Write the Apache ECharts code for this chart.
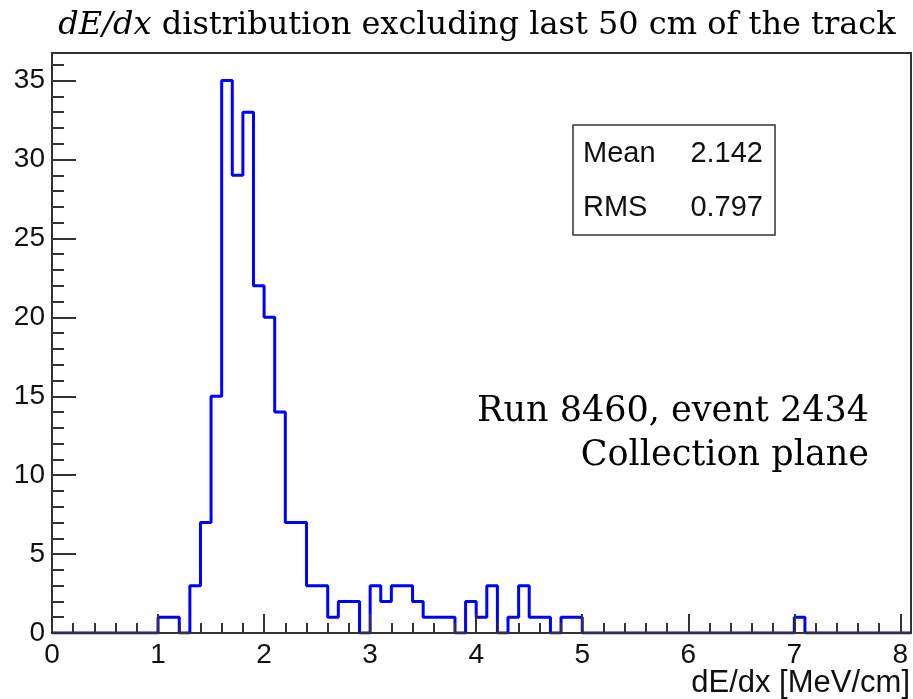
<!DOCTYPE html>
<html>
<head>
<meta charset="utf-8">
<script src="https://cdn.jsdelivr.net/npm/echarts@6/dist/echarts.min.js"></script>
<style>
html,body{margin:0;padding:0;background:#fff;}
#chart{width:913px;height:699px;}
</style>
</head>
<body>
<div id="chart"></div>
<script>
// Histogram: 81 bins of width 0.1 from 0 to 8.1 (dE/dx in MeV/cm)
const binWidth = 0.1;
const binCounts = [
  0,0,0,0,0,0,0,0,0,0,      // 0.0 - 0.9
  1,1,0,3,7,15,35,29,33,22, // 1.0 - 1.9
  20,14,7,7,3,3,1,2,2,0,    // 2.0 - 2.9
  3,2,3,3,2,1,1,1,0,2,      // 3.0 - 3.9
  1,3,0,1,3,1,1,0,1,1,      // 4.0 - 4.9
  0,0,0,0,0,0,0,0,0,0,      // 5.0 - 5.9
  0,0,0,0,0,0,0,0,0,0,      // 6.0 - 6.9
  1,0,0,0,0,0,0,0,0,0,      // 7.0 - 7.9
  0                         // 8.0
];
const xTickLabels = ['0','1','2','3','4','5','6','7','8'];
const yTickLabels = ['0','5','10','15','20','25','30','35'];
const statsNames = ['Mean', 'RMS'];
const statsValues = ['2.142', '0.797'];
const titleText = 'distribution excluding last 50 cm of the track';
const annotLines = ['Run 8460, event 2434', 'Collection plane'];
const xAxisTitle = 'dE/dx [MeV/cm]';

const xMax = 8.1, yMax = 36.75;

// build step outline points from bin edges
const stepData = binCounts.map((c, i) => [+(i * binWidth).toFixed(2), c]);
stepData.push([xMax, binCounts[binCounts.length - 1]]);

const axisCol = '#333';
const serif = 'DejaVu Serif';
const chart = echarts.init(document.getElementById('chart'));
chart.setOption({
  animation: false,
  grid: {left: 52, right: 2, top: 53, bottom: 66, show: true, borderColor: axisCol, borderWidth: 2, backgroundColor: 'transparent'},
  xAxis: [
    {type: 'value', min: 0, max: xMax, interval: 1, z: 5,
     axisLine: {show: true, onZero: false, lineStyle: {color: axisCol, width: 2}},
     axisTick: {show: true, inside: true, length: 19, lineStyle: {color: axisCol, width: 2}},
     axisLabel: {show: true, fontSize: 28, fontFamily: 'Liberation Sans', color: '#111', margin: 8, showMaxLabel: false,
       formatter: v => { const s = xTickLabels[Math.round(v)]; return Math.abs(v - Math.round(v)) < 1e-6 && s !== undefined ? s : ''; }},
     splitLine: {show: false}},
    {type: 'value', min: 0, max: xMax, interval: 0.2, position: 'bottom', z: 5,
     axisLine: {show: false}, axisLabel: {show: false}, splitLine: {show: false},
     axisTick: {show: true, inside: true, length: 10, lineStyle: {color: axisCol, width: 2}}}
  ],
  yAxis: [
    {type: 'value', min: 0, max: yMax, interval: 5, z: 5,
     axisLine: {show: true, onZero: false, lineStyle: {color: axisCol, width: 2}},
     axisTick: {show: true, inside: true, length: 24, lineStyle: {color: axisCol, width: 2}},
     axisLabel: {show: true, fontSize: 28, fontFamily: 'Liberation Sans', color: '#111', margin: 7, showMaxLabel: false,
       formatter: v => { const k = Math.round(v / 5); return Math.abs(v - k * 5) < 1e-6 && yTickLabels[k] !== undefined ? yTickLabels[k] : ''; }},
     splitLine: {show: false}},
    {type: 'value', min: 0, max: yMax, interval: 1, position: 'left', z: 5,
     axisLine: {show: false}, axisLabel: {show: false}, splitLine: {show: false},
     axisTick: {show: true, inside: true, length: 12, lineStyle: {color: axisCol, width: 2}}}
  ],
  series: [{
    type: 'line', xAxisIndex: 0, yAxisIndex: 0, step: 'end', data: stepData,
    showSymbol: false, symbol: 'none',
    lineStyle: {color: '#0000ff', width: 3}, z: 3
  }],
  graphic: [
    {type: 'text', x: 477, y: 26, style: {
      text: '{i|dE/dx} ' + titleText,
      rich: {i: {fontFamily: serif, fontStyle: 'italic', fontSize: 32, fill: '#000'}},
      fontFamily: serif, fontSize: 32, fill: '#000', textAlign: 'center', textVerticalAlign: 'middle'}},
    {type: 'rect', shape: {x: 573, y: 125, width: 202, height: 110}, style: {fill: '#fff', stroke: '#333', lineWidth: 1.5}, z: 10},
    {type: 'text', x: 583, y: 154, z: 11, style: {text: statsNames[0], fontFamily: 'Liberation Sans', fontSize: 29, fill: '#111', textVerticalAlign: 'middle'}},
    {type: 'text', x: 763, y: 154, z: 11, style: {text: statsValues[0], fontFamily: 'Liberation Sans', fontSize: 29, fill: '#111', textAlign: 'right', textVerticalAlign: 'middle'}},
    {type: 'text', x: 583, y: 208, z: 11, style: {text: statsNames[1], fontFamily: 'Liberation Sans', fontSize: 29, fill: '#111', textVerticalAlign: 'middle'}},
    {type: 'text', x: 763, y: 208, z: 11, style: {text: statsValues[1], fontFamily: 'Liberation Sans', fontSize: 29, fill: '#111', textAlign: 'right', textVerticalAlign: 'middle'}},
    {type: 'text', x: 869, y: 412, z: 11, style: {text: annotLines[0], fontFamily: serif, fontSize: 35, fill: '#000', textAlign: 'right', textVerticalAlign: 'middle'}},
    {type: 'text', x: 869, y: 456, z: 11, style: {text: annotLines[1], fontFamily: serif, fontSize: 35, fill: '#000', textAlign: 'right', textVerticalAlign: 'middle'}},
    {type: 'text', x: 910, y: 683, z: 11, style: {text: xAxisTitle, fontFamily: 'Liberation Sans', fontSize: 31, fill: '#111', textAlign: 'right', textVerticalAlign: 'middle'}}
  ]
});
</script>
</body>
</html>
